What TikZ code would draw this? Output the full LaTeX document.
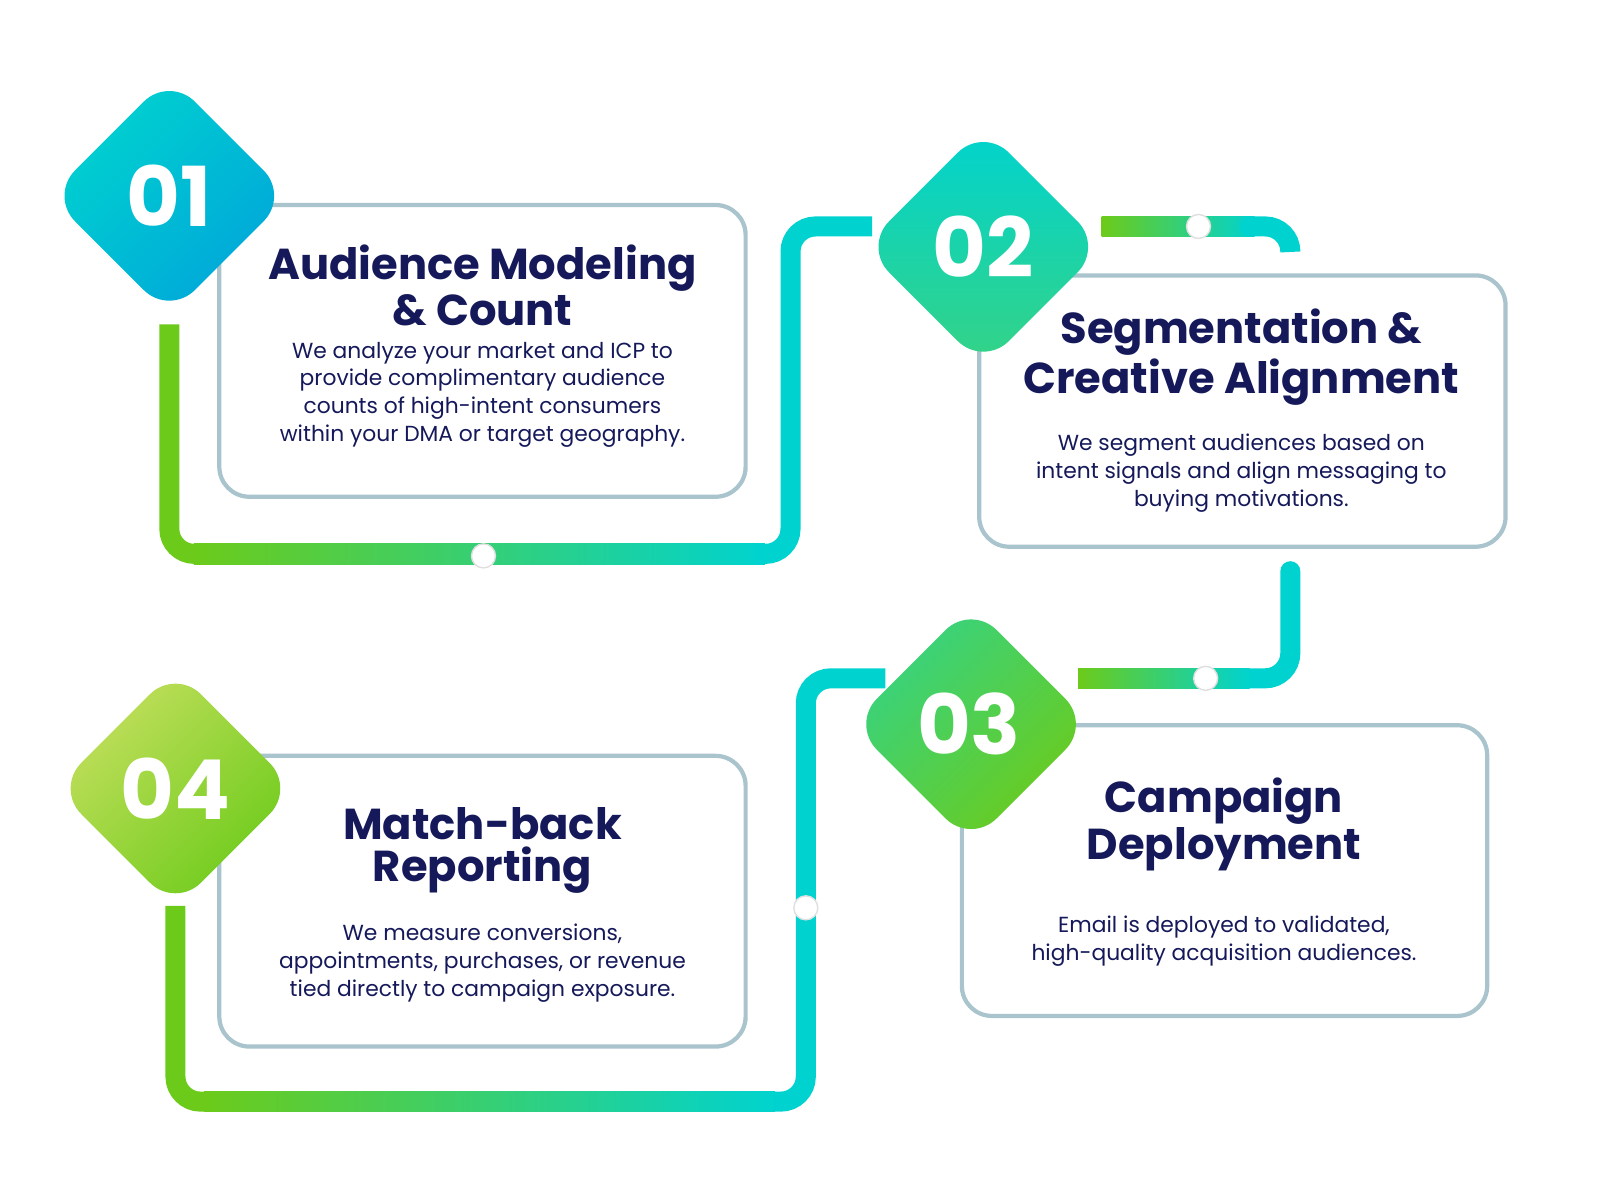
\documentclass[tikz,border=0pt]{standalone}
\usepackage{fontspec}
\setmainfont{Poppins}
\usetikzlibrary{positioning}
\definecolor{navy}{HTML}{15195A}
\definecolor{lgreen}{HTML}{6CCB1A}
\definecolor{lcyan}{HTML}{00D3CF}
\definecolor{lblue}{HTML}{00A6DA}
\definecolor{lmint}{HTML}{35D385}
\definecolor{lyell}{HTML}{C4DF5E}
\definecolor{edge}{HTML}{A9C4CC}
\tikzset{
  card/.style={draw=edge, line width=1.2pt, rounded corners=0.3cm, fill=white},
  title/.style={font=\bfseries\fontsize{12.3}{12}\selectfont, text=navy, align=center},
  body/.style={font=\fontsize{6.2}{7.9}\selectfont, text=navy, align=center},
  num/.style={font=\bfseries\fontsize{23.5}{24}\selectfont, text=white},
  track/.style={line width=0.2cm, rounded corners=0.25cm},
  dot/.style={circle, fill=white, draw=gray!25, inner sep=0pt, minimum size=0.24cm},
}
\newcommand{\stepdiamond}[5]{% x, y, from, to, angle
  \begin{scope}[shift={(#1,#2)}, rotate=45]
  \shade[left color=#3, right color=#4, shading angle=#5, rounded corners=0.36cm]
    (-83,-83) rectangle (83,83);
  \end{scope}}
\begin{document}
\begin{tikzpicture}[x=0.0102cm,y=-0.0102cm]
\useasboundingbox (0,0) rectangle (1568.6,1176.5);
% cards
\draw[card] (215,201) rectangle (731,487);
\draw[card] (960,270) rectangle (1476,536);
\draw[card] (943,711) rectangle (1458,996);
\draw[card] (215,741) rectangle (731,1026);
% track 1 -> 2
\coordinate (t1a) at (166,318);
\coordinate (t1b) at (855,222);
\draw[track, lgreen] (t1a) -- (166,543) -- (200,543);
\shade[left color=lgreen, right color=lcyan] (190,533) rectangle (750,553);
\draw[track, lcyan] (740,543) -- (775,543) -- (775,222) -- (t1b);
% track 2 top
\coordinate (t2a) at (1080,212);
\coordinate (t2b) at (1265,245);
\shade[left color=lgreen, right color=lcyan] (t2a) rectangle (1230,232);
\draw[track, lcyan, line cap=round] (1225,222) -- (1265,222) -- (t2b);
% track 2 -> 3
\coordinate (t3a) at (1265,560);
\coordinate (t3b) at (1057,655);
\draw[track, lcyan, line cap=round] (t3a) -- (1265,665) -- (1220,665);
\shade[left color=lgreen, right color=lcyan] (t3b) rectangle (1225,675);
% track 3 -> 4
\coordinate (t4a) at (868,665);
\coordinate (t4b) at (172,888);
\draw[track, lcyan] (t4a) -- (790,665) -- (790,1080) -- (750,1080);
\shade[left color=lgreen, right color=lcyan] (200,1070) rectangle (760,1090);
\draw[track, lgreen] (205,1080) -- (172,1080) -- (t4b);
% dots
\node[dot] (d1) at (474,545) {};
\node[dot] (d2) at (1175,222) {};
\node[dot] (d3) at (1182,665) {};
\node[dot] (d4) at (790,890) {};
% diamonds
\stepdiamond{166}{192}{lcyan}{lblue}{45}
\stepdiamond{964}{242}{lcyan}{lmint}{0}
\stepdiamond{952}{710}{lmint}{lgreen}{45}
\stepdiamond{172}{773}{lyell}{lgreen}{45}
\node[num] (n1) at (166,192) {01};
\node[num] (n2) at (964,242) {02};
\node[num] (n3) at (950,710) {03};
\node[num] (n4) at (172,773) {04};
% texts
\node[title] (h1) at (473,280) {Audience Modeling\\\& Count};
\node[body] (b1) at (473,387) {We analyze your market and ICP to\\provide complimentary audience\\counts of high-intent consumers\\within your DMA or target geography.};
\node[title] (h2) at (1217,350) {Segmentation \&\\Creative Alignment};
\node[body] (b2) at (1217,464) {We segment audiences based on\\intent signals and align messaging to\\buying motivations.};
\node[title] (h3) at (1200,808) {Campaign\\Deployment};
\node[body] (b3) at (1200,923) {Email is deployed to validated,\\high-quality acquisition audiences.};
\node[title] (h4) at (473,834) {Match-back\\Reporting};
\node[body] (b4) at (473,944) {We measure conversions,\\appointments, purchases, or revenue\\tied directly to campaign exposure.};
\end{tikzpicture}
\end{document}
